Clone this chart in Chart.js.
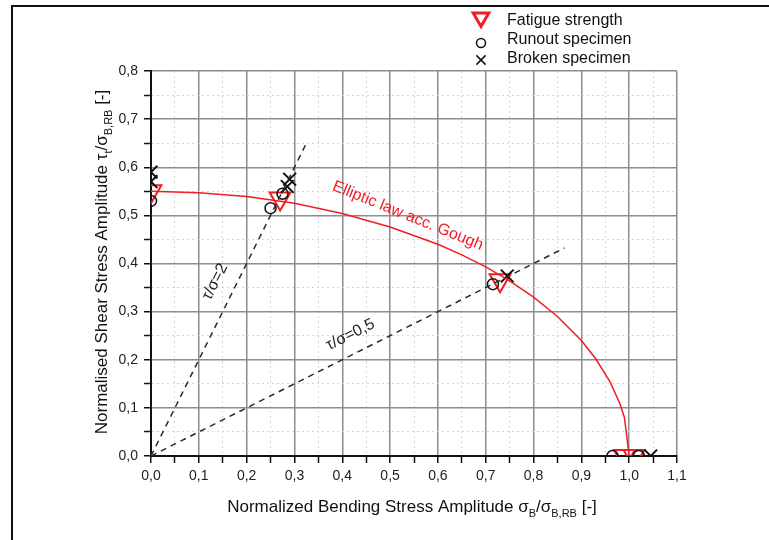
<!DOCTYPE html>
<html>
<head>
<meta charset="utf-8">
<script src="https://cdn.jsdelivr.net/npm/chart.js@4.4.0/dist/chart.umd.min.js"></script>
<style>
html,body{margin:0;padding:0;background:#fff}
</style>
</head>
<body>
<canvas id="myChart" width="769" height="540"></canvas>
<script>
// elliptic law acc. Gough
let ellipseX = [0, 0.1, 0.2, 0.3, 0.4, 0.5, 0.6, 0.65, 0.7, 0.75, 0.8, 0.85, 0.9, 0.93, 0.96, 0.98, 0.99, 1.0]
let ellipseY = [0.55, 0.547, 0.539, 0.525, 0.504, 0.476, 0.44, 0.418, 0.393, 0.364, 0.33, 0.29, 0.24, 0.202, 0.154, 0.11, 0.08, 0]

// fatigue strength (red triangles)
let fatigueX = [0, 0.27, 0.73, 0.99, 1.01]
let fatigueY = [0.55, 0.535, 0.365, 0, 0]

// runout specimen (circles)
let runoutX = [0, 0.25, 0.275, 0.715, 0.965, 1.02]
let runoutY = [0.53, 0.515, 0.545, 0.357, 0, 0]

// broken specimen (x)
let brokenX = [0, 0, 0.285, 0.29, 0.745, 1.045]
let brokenY = [0.59, 0.57, 0.56, 0.575, 0.374, 0]

// load paths tau/sigma = 2 and 0,5
let ratio2X = [0, 0.325]
let ratio2Y = [0, 0.65]
let ratio05X = [0, 0.865]
let ratio05Y = [0, 0.4325]

let xTickLabels = ['0,0','0,1','0,2','0,3','0,4','0,5','0,6','0,7','0,8','0,9','1,0','1,1']
let yTickLabels = ['0,0','0,1','0,2','0,3','0,4','0,5','0,6','0,7','0,8']

const FONT = "'Liberation Sans', Arial, sans-serif"
const RED = '#f01e24'

let toPts = (xs, ys) => xs.map((x, i) => ({x: x, y: ys[i]}))
let isMajor = (v) => Math.abs(v * 10 - Math.round(v * 10)) < 1e-6

function richText(ctx, parts, cx, cy, angle, size, color) {
    ctx.save()
    ctx.translate(cx, cy)
    ctx.rotate(angle)
    ctx.fillStyle = color
    ctx.textAlign = 'left'
    ctx.textBaseline = 'alphabetic'
    let total = 0
    parts.forEach(p => {
        ctx.font = (p[1] ? Math.round(size * 0.62) : size) + 'px ' + FONT
        total += ctx.measureText(p[0]).width
    })
    let x = -total / 2
    parts.forEach(p => {
        ctx.font = (p[1] ? Math.round(size * 0.62) : size) + 'px ' + FONT
        ctx.fillText(p[0], x, p[1] ? size * 0.32 : 0)
        x += ctx.measureText(p[0]).width
    })
    ctx.restore()
}

const decor = {
    id: 'decor',
    beforeDraw(chart) {
        const ctx = chart.ctx
        ctx.save()
        ctx.fillStyle = '#fff'
        ctx.fillRect(0, 0, chart.width, chart.height)
        ctx.strokeStyle = '#111'
        ctx.lineWidth = 2
        ctx.strokeRect(12, 6, 900, 700)
        ctx.restore()
    },
    afterDatasetsDraw(chart) {
        const ctx = chart.ctx
        const sx = chart.scales.x, sy = chart.scales.y
        const notes = [
            {t: 'Elliptic law acc. Gough', x: 0.537, y: 0.499, a: 22, c: RED, s: 16},
            {t: 'τ/σ=2', x: 0.134, y: 0.362, a: -63, c: '#222', s: 16},
            {t: 'τ/σ=0,5', x: 0.417, y: 0.252, a: -26.5, c: '#222', s: 16}
        ]
        notes.forEach(n => {
            ctx.save()
            ctx.translate(sx.getPixelForValue(n.x), sy.getPixelForValue(n.y))
            ctx.rotate(n.a * Math.PI / 180)
            ctx.font = n.s + 'px ' + FONT
            ctx.fillStyle = n.c
            ctx.textAlign = 'center'
            ctx.textBaseline = 'middle'
            ctx.fillText(n.t, 0, 0)
            ctx.restore()
        })
    },
    afterDraw(chart) {
        const ctx = chart.ctx
        // axis titles with subscripts
        richText(ctx, [['Normalized Bending Stress Amplitude σ', 0], ['B', 1], ['/σ', 0], ['B,RB', 1], [' [-]', 0]],
            412, 512, 0, 17, '#111')
        richText(ctx, [['Normalised Shear Stress Amplitude τ', 0], ['t', 1], ['/σ', 0], ['B,RB', 1], [' [-]', 0]],
            107, 262, -Math.PI / 2, 17, '#111')
        // legend
        const items = [
            {s: 'triangle', rot: 180, r: 9, c: RED, w: 3, y: 17.5, t: 'Fatigue strength', ty: 25},
            {s: 'circle', rot: 0, r: 4.5, c: '#111', w: 1.5, y: 43, t: 'Runout specimen', ty: 44},
            {s: 'crossRot', rot: 0, r: 6.5, c: '#111', w: 1.5, y: 60, t: 'Broken specimen', ty: 63}
        ]
        items.forEach(it => {
            ctx.save()
            ctx.strokeStyle = it.c
            ctx.fillStyle = 'rgba(0,0,0,0)'
            ctx.lineWidth = it.w
            Chart.helpers.drawPoint(ctx, {pointStyle: it.s, rotation: it.rot, radius: it.r, borderWidth: it.w}, 481, it.y)
            ctx.restore()
            ctx.save()
            ctx.font = '16px ' + FONT
            ctx.fillStyle = '#111'
            ctx.textBaseline = 'alphabetic'
            ctx.fillText(it.t, 507, it.ty)
            ctx.restore()
        })
    }
}

let gridOpts = {
    color: (c) => (c.tick && !isMajor(c.tick.value)) ? '#d6d6d6' : '#8c8c8c',
    lineWidth: (c) => (c.tick && !isMajor(c.tick.value)) ? 1 : 1.5,
    tickLength: 7,
    tickColor: '#111',
    tickWidth: 1.5
}
let borderOpts = {
    color: '#111',
    width: 2,
    dash: (c) => (c.tick && !isMajor(c.tick.value)) ? [2, 3] : []
}

new Chart(document.getElementById('myChart'), {
    type: 'scatter',
    data: {
        datasets: [
            {label: 'tau/sigma=2', data: toPts(ratio2X, ratio2Y), showLine: true, borderColor: '#2a2a2a', borderWidth: 1.5, borderDash: [6, 5], pointRadius: 0},
            {label: 'tau/sigma=0,5', data: toPts(ratio05X, ratio05Y), showLine: true, borderColor: '#2a2a2a', borderWidth: 1.5, borderDash: [6, 5], pointRadius: 0},
            {label: 'Elliptic law acc. Gough', data: toPts(ellipseX, ellipseY), showLine: true, borderColor: RED, borderWidth: 1.5, pointRadius: 0},
            {label: 'Runout specimen', data: toPts(runoutX, runoutY), pointStyle: 'circle', pointRadius: 5.5, borderColor: '#111', borderWidth: 1.5, backgroundColor: 'rgba(0,0,0,0)'},
            {label: 'Broken specimen', data: toPts(brokenX, brokenY), pointStyle: 'crossRot', pointRadius: 9, borderColor: '#111', borderWidth: 2, backgroundColor: 'rgba(0,0,0,0)'},
            {label: 'Fatigue strength', data: toPts(fatigueX, fatigueY), pointStyle: 'triangle', pointRotation: 180, pointRadius: 12, borderColor: RED, borderWidth: 2, backgroundColor: 'rgba(0,0,0,0)'}
        ]
    },
    options: {
        responsive: false,
        animation: false,
        devicePixelRatio: 1,
        layout: {padding: {left: 0, top: 71, right: 92, bottom: 0}},
        plugins: {legend: {display: false}, tooltip: {enabled: false}},
        scales: {
            x: {
                type: 'linear', min: 0, max: 1.1,
                afterFit: (s) => { s.height = 84 },
                ticks: {stepSize: 0.05, autoSkip: false, maxRotation: 0, padding: 5, color: '#222', font: {family: FONT, size: 14},
                    callback: (v) => isMajor(v) ? xTickLabels[Math.round(v * 10)] : ''},
                grid: gridOpts,
                border: borderOpts
            },
            y: {
                type: 'linear', min: 0, max: 0.8,
                afterFit: (s) => { s.width = 151 },
                ticks: {stepSize: 0.05, autoSkip: false, padding: 6, color: '#222', font: {family: FONT, size: 14},
                    callback: (v) => isMajor(v) ? yTickLabels[Math.round(v * 10)] : ''},
                grid: gridOpts,
                border: borderOpts
            }
        }
    },
    plugins: [decor]
})
</script>
</body>
</html>
